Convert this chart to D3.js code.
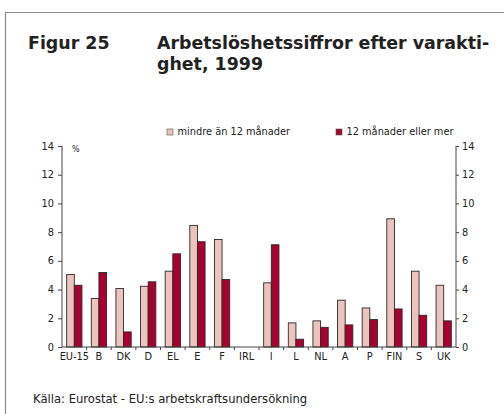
<!DOCTYPE html>
<html lang="sv">
<head>
    <meta charset="UTF-8">
    <title>Figur 25</title>
    <script src="https://cdn.jsdelivr.net/npm/d3@7"></script>
    <style>
        body { margin: 0; background: #fff; }
        text { font-family: "DejaVu Sans", Verdana, sans-serif; fill: #222; }
    </style>
</head>
<body>
    <svg width="504" height="414" id="mainsvg"></svg>
    <script>
        // data
        const countries = ['EU-15', 'B', 'DK', 'D', 'EL', 'E', 'F', 'IRL', 'I', 'L', 'NL', 'A', 'P', 'FIN', 'S', 'UK'];
        const shortTerm = [5.05, 3.38, 4.07, 4.23, 5.28, 8.47, 7.49, null, 4.47, 1.68, 1.82, 3.26, 2.72, 8.93, 5.28, 4.3];
        const longTerm = [4.3, 5.19, 1.05, 4.54, 6.49, 7.33, 4.7, null, 7.12, 0.54, 1.37, 1.54, 1.91, 2.65, 2.21, 1.82];
        const seriesNames = ['mindre än 12 månader', '12 månader eller mer'];
        const yTicks = [0, 2, 4, 6, 8, 10, 12, 14];

        const colors = ['#ecc4bd', '#a8002f'];

        const svg = d3.select('#mainsvg');
        const margin = { top: 146, left: 62, right: 48, bottom: 67 };
        const width = +svg.attr('width');
        const height = +svg.attr('height');

        // frame
        svg.append('path')
            .attr('d', `M5.5,${height} V12.5 H${width}`)
            .attr('fill', 'none')
            .attr('stroke', '#8a8a8a')
            .attr('stroke-width', 1.2);

        // title
        const titleSize = 17.4;
        svg.append('text').attr('x', 28).attr('y', 49)
            .attr('font-size', titleSize).attr('font-weight', 'bold')
            .text('Figur 25');
        svg.append('text').attr('x', 157).attr('y', 49)
            .attr('font-size', titleSize).attr('font-weight', 'bold')
            .text('Arbetslöshetssiffror efter varakti-');
        svg.append('text').attr('x', 157).attr('y', 70)
            .attr('font-size', titleSize).attr('font-weight', 'bold')
            .text('ghet, 1999');

        const x = d3.scaleBand()
            .domain(countries)
            .range([margin.left, width - margin.right]);
        const x1 = d3.scaleBand()
            .domain([0, 1])
            .range([0, x.bandwidth() * 0.62]);
        const y = d3.scaleLinear()
            .domain([0, 14])
            .range([height - margin.bottom, margin.top]);

        const g = svg.append('g');

        // bars
        const series = [shortTerm, longTerm];
        series.forEach((vals, s) => {
            g.selectAll(null)
                .data(countries.map((c, i) => ({ c, v: vals[i] })).filter(d => d.v != null))
                .join('rect')
                .attr('x', d => x(d.c) + x.bandwidth() * 0.19 + x1(s))
                .attr('y', d => y(d.v))
                .attr('width', x1.bandwidth())
                .attr('height', d => y(0) - y(d.v))
                .attr('fill', colors[s])
                .attr('stroke', '#2a2a2a')
                .attr('stroke-width', 0.9);
        });

        // left and right axes
        const gl = svg.append('g').attr('transform', `translate(${margin.left},0)`)
            .call(d3.axisLeft(y).tickValues(yTicks).tickSize(4).tickPadding(4));
        const gr = svg.append('g').attr('transform', `translate(${width - margin.right},0)`)
            .call(d3.axisRight(y).tickValues(yTicks).tickSize(3).tickPadding(3));
        [gl, gr].forEach(a => {
            a.select('.domain').attr('stroke', '#444').attr('d', `M0,${y(0)}V${y(14)}`);
            a.selectAll('line').attr('stroke', '#444');
            a.selectAll('text').attr('font-size', 9.8)
                .attr('font-family', '"DejaVu Sans", Verdana, sans-serif').attr('fill', '#222');
        });

        // bottom axis with ticks between categories
        const bx = svg.append('g').attr('transform', `translate(0,${y(0)})`);
        bx.append('line')
            .attr('x1', margin.left).attr('x2', width - margin.right)
            .attr('stroke', '#444');
        bx.selectAll('.sep')
            .data(countries.slice(1))
            .join('line')
            .attr('x1', d => x(d)).attr('x2', d => x(d))
            .attr('y1', 0).attr('y2', 3)
            .attr('stroke', '#444');
        bx.selectAll('.lab')
            .data(countries)
            .join('text')
            .attr('x', d => x(d) + x.bandwidth() / 2)
            .attr('y', 12.5)
            .attr('text-anchor', 'middle')
            .attr('font-size', 9.8)
            .text(d => d);

        // unit
        svg.append('text').attr('x', 72).attr('y', 152)
            .attr('font-size', 8).text('%');

        // legend
        const legendX = [167, 336];
        seriesNames.forEach((n, i) => {
            svg.append('rect')
                .attr('x', legendX[i]).attr('y', 129)
                .attr('width', 6).attr('height', 6)
                .attr('fill', colors[i])
                .attr('stroke', '#555').attr('stroke-width', 0.6);
            svg.append('text')
                .attr('x', legendX[i] + 10.5).attr('y', 135)
                .attr('font-size', 9.8)
                .text(n);
        });

        // source
        svg.append('text').attr('x', 33).attr('y', 403)
            .attr('font-size', 11.6).attr('fill', '#333')
            .text('Källa: Eurostat - EU:s arbetskraftsundersökning');
    </script>
</body>
</html>
